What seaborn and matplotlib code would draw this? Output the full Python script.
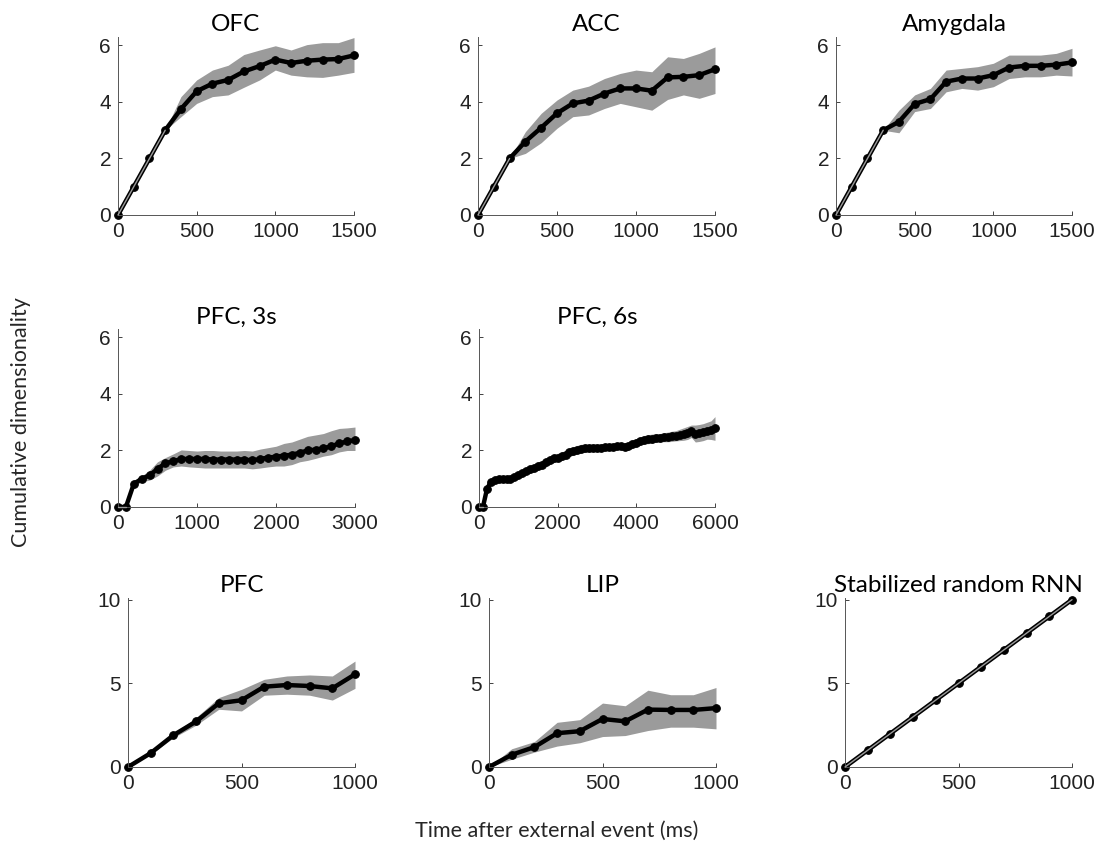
import numpy as np
import matplotlib
matplotlib.use("Agg")
import matplotlib.pyplot as plt
import seaborn as sns

# Values
t_short = [0, 100, 200, 300, 400, 500, 600, 700, 800, 900, 1000, 1100, 1200, 1300, 1400, 1500]

ofc_mean = [0, 1, 2, 3, 3.75, 4.38, 4.65, 4.78, 5.08, 5.27, 5.5, 5.38, 5.46, 5.5, 5.52, 5.65]
ofc_hi = [0, 1, 2, 3, 4.19, 4.78, 5.13, 5.3, 5.68, 5.84, 5.99, 5.84, 6.03, 6.1, 6.1, 6.28]
ofc_lo = [0, 1, 2, 3, 3.48, 3.95, 4.19, 4.25, 4.52, 4.78, 5.13, 4.95, 4.89, 4.87, 4.95, 5.05]

acc_mean = [0, 1, 2, 2.6, 3.09, 3.6, 3.95, 4.05, 4.3, 4.48, 4.48, 4.4, 4.87, 4.89, 4.95, 5.16]
acc_hi = [0, 1, 2, 2.95, 3.6, 4.07, 4.42, 4.56, 4.83, 5.01, 5.13, 5.07, 5.6, 5.54, 5.72, 5.95]
acc_lo = [0, 1, 2, 2.18, 2.56, 3.07, 3.48, 3.54, 3.77, 3.95, 3.83, 3.71, 4.09, 4.25, 4.13, 4.3]

amy_mean = [0, 1, 2, 3, 3.3, 3.93, 4.1, 4.72, 4.83, 4.83, 4.95, 5.22, 5.28, 5.28, 5.32, 5.4]
amy_hi = [0, 1, 2, 3, 3.71, 4.25, 4.48, 5.13, 5.19, 5.25, 5.37, 5.66, 5.66, 5.66, 5.72, 5.9]
amy_lo = [0, 1, 2, 3, 2.91, 3.66, 3.77, 4.36, 4.48, 4.42, 4.54, 4.83, 4.89, 4.89, 4.95, 4.92]

t_3s = [0, 100, 200, 300, 400, 500, 600, 700, 800, 900, 1000, 1100, 1200, 1300, 1400, 1500,
        1600, 1700, 1800, 1900, 2000, 2100, 2200, 2300, 2400, 2500, 2600, 2700, 2800, 2900, 3000]
pfc3_mean = [0, 0, 0.82, 1.0, 1.12, 1.35, 1.55, 1.62, 1.7, 1.7, 1.7, 1.7, 1.68, 1.68, 1.68, 1.68,
             1.68, 1.65, 1.7, 1.75, 1.78, 1.82, 1.85, 1.92, 2.0, 2.03, 2.08, 2.15, 2.25, 2.32, 2.37]
pfc3_hi = [0, 0, 0.9, 1.1, 1.3, 1.6, 1.75, 1.88, 2.02, 2.0, 1.98, 2.0, 2.0, 1.98, 1.98, 1.98,
           2.0, 1.98, 2.05, 2.1, 2.15, 2.25, 2.3, 2.4, 2.5, 2.55, 2.6, 2.7, 2.78, 2.8, 2.83]
pfc3_lo = [0, 0, 0.72, 0.9, 0.95, 1.1, 1.3, 1.42, 1.45, 1.42, 1.4, 1.38, 1.38, 1.38, 1.38, 1.38,
           1.38, 1.35, 1.38, 1.42, 1.45, 1.45, 1.5, 1.6, 1.65, 1.72, 1.8, 1.85, 1.95, 2.0, 2.0]

t_6s = [0, 100, 200, 300, 400, 500, 600, 700, 800, 900, 1000, 1100, 1200, 1300, 1400, 1500,
        1600, 1700, 1800, 1900, 2000, 2100, 2200, 2300, 2400, 2500, 2600, 2700, 2800, 2900, 3000,
        3100, 3200, 3300, 3400, 3500, 3600, 3700, 3800, 3900, 4000, 4100, 4200, 4300, 4400, 4500,
        4600, 4700, 4800, 4900, 5000, 5100, 5200, 5300, 5400, 5500, 5600, 5700, 5800, 5900, 6000]
pfc6_mean = [0, 0, 0.62, 0.9, 0.97, 1.0, 1.0, 1.0, 1.0, 1.05, 1.12, 1.2, 1.28, 1.33, 1.38, 1.45,
             1.5, 1.58, 1.65, 1.72, 1.75, 1.8, 1.85, 1.95, 1.98, 2.03, 2.07, 2.08, 2.08, 2.1, 2.1,
             2.1, 2.12, 2.13, 2.13, 2.15, 2.15, 2.13, 2.15, 2.22, 2.27, 2.33, 2.38, 2.4, 2.42, 2.45,
             2.45, 2.47, 2.48, 2.5, 2.52, 2.55, 2.58, 2.62, 2.68, 2.6, 2.62, 2.65, 2.7, 2.72, 2.78]
pfc6_hi = [0, 0, 0.7, 1.0, 1.07, 1.1, 1.1, 1.1, 1.1, 1.17, 1.24, 1.33, 1.41, 1.47, 1.52, 1.6,
           1.65, 1.73, 1.8, 1.87, 1.9, 1.95, 2.0, 2.1, 2.13, 2.18, 2.22, 2.22, 2.22, 2.23, 2.23,
           2.23, 2.24, 2.25, 2.25, 2.27, 2.27, 2.25, 2.28, 2.37, 2.42, 2.48, 2.53, 2.56, 2.58, 2.6,
           2.6, 2.63, 2.65, 2.68, 2.7, 2.75, 2.8, 2.85, 2.9, 2.9, 2.92, 2.95, 3.0, 3.05, 3.2]
pfc6_lo = [0, 0, 0.54, 0.8, 0.87, 0.9, 0.9, 0.9, 0.9, 0.93, 1.0, 1.07, 1.15, 1.19, 1.24, 1.3,
           1.35, 1.43, 1.5, 1.57, 1.6, 1.65, 1.7, 1.8, 1.83, 1.88, 1.92, 1.94, 1.94, 1.97, 1.97,
           1.97, 2.0, 2.01, 2.01, 2.03, 2.03, 2.01, 2.02, 2.07, 2.12, 2.18, 2.23, 2.24, 2.26, 2.3,
           2.3, 2.31, 2.31, 2.32, 2.34, 2.35, 2.36, 2.39, 2.46, 2.3, 2.32, 2.35, 2.4, 2.39, 2.36]

t_long = [0, 100, 200, 300, 400, 500, 600, 700, 800, 900, 1000]

pfc_mean = [0, 0.83, 1.9, 2.72, 3.81, 3.99, 4.8, 4.9, 4.84, 4.7, 5.54]
pfc_hi = [0, 0.9, 2.0, 2.96, 4.15, 4.64, 5.24, 5.44, 5.5, 5.44, 6.33]
pfc_lo = [0, 0.75, 1.75, 2.5, 3.45, 3.35, 4.29, 4.35, 4.29, 4.0, 4.7]

lip_mean = [0, 0.73, 1.19, 2.02, 2.14, 2.87, 2.73, 3.43, 3.41, 3.41, 3.52]
lip_hi = [0, 1.09, 1.52, 2.67, 2.83, 3.82, 3.66, 4.59, 4.32, 4.32, 4.75]
lip_lo = [0, 0.46, 0.89, 1.25, 1.45, 1.82, 1.88, 2.18, 2.38, 2.38, 2.28]

rnn_mean = [0, 1, 2, 3, 4, 5, 6, 7, 8, 9, 10]

panels = [
    ("OFC", t_short, ofc_mean, ofc_lo, ofc_hi, [0, 500, 1000, 1500], [0, 2, 4, 6], 6.3),
    ("ACC", t_short, acc_mean, acc_lo, acc_hi, [0, 500, 1000, 1500], [0, 2, 4, 6], 6.3),
    ("Amygdala", t_short, amy_mean, amy_lo, amy_hi, [0, 500, 1000, 1500], [0, 2, 4, 6], 6.3),
    ("PFC, 3s", t_3s, pfc3_mean, pfc3_lo, pfc3_hi, [0, 1000, 2000, 3000], [0, 2, 4, 6], 6.3),
    ("PFC, 6s", t_6s, pfc6_mean, pfc6_lo, pfc6_hi, [0, 2000, 4000, 6000], [0, 2, 4, 6], 6.3),
    ("PFC", t_long, pfc_mean, pfc_lo, pfc_hi, [0, 500, 1000], [0, 5, 10], 10.1),
    ("LIP", t_long, lip_mean, lip_lo, lip_hi, [0, 500, 1000], [0, 5, 10], 10.1),
    ("Stabilized random RNN", t_long, rnn_mean, rnn_mean, rnn_mean, [0, 500, 1000], [0, 5, 10], 10.1),
]

# axes boxes in pixels: left, right, bottom(y of zero), top
W, H = 1098, 849
boxes = [
    (118, 354, 215, 37), (478, 715, 215, 37), (836, 1072, 215, 37),
    (118, 355, 507, 329), (479, 715, 507, 329),
    (128, 355, 767, 598), (489, 716, 767, 598), (845, 1072, 767, 598),
]

sns.set_style("ticks")
plt.rcParams['font.family'] = ['Liberation Sans', 'DejaVu Sans']
plt.rcParams['xtick.direction'] = 'in'
plt.rcParams['ytick.direction'] = 'in'

fig = plt.figure(figsize=(W / 100, H / 100), dpi=100)
band_col = '#9b9b9b'
text_col = '#222222'
title_font = ['Lato', 'DejaVu Sans']

for (title, t, m, lo, hi, xt, yt, ytop), (l, r, b, tp) in zip(panels, boxes):
    ax = fig.add_axes([l / W, 1 - b / H, (r - l) / W, (b - tp) / H])
    ax.fill_between(t, lo, hi, color=band_col, lw=0, zorder=1)
    sns.lineplot(x=t, y=m, ax=ax, color='black', lw=3.2, marker='o', markersize=5.5,
                 markeredgecolor='black', zorder=2, clip_on=False)
    # thin band edge on top of the line, shown only where the band collapses
    lo_a, hi_a = np.array(lo, float), np.array(hi, float)
    flat = np.where(hi_a - lo_a < 0.01, lo_a, np.nan)
    ax.plot(t, flat, color=band_col, lw=1.0, zorder=3, clip_on=False)
    ax.set_xlim(xt[0], xt[-1])
    ax.set_ylim(0, ytop)
    ax.set_xticks(xt)
    ax.set_yticks(yt)
    ax.tick_params(labelsize=15, colors=text_col, length=3, width=0.6, pad=5)
    for s in ['top', 'right']:
        ax.spines[s].set_visible(False)
    for s in ['left', 'bottom']:
        ax.spines[s].set_color('#555555')
        ax.spines[s].set_linewidth(0.7)
    ax.set_title(title, fontsize=17.5, family=title_font, color='black', pad=4)

fig.text(21 / W, 1 - 422 / H, "Cumulative dimensionality", rotation=90, ha='center', va='center',
         fontsize=15.5, family=title_font)
fig.text(557 / W, 1 - 831 / H, "Time after external event (ms)", ha='center', va='center',
         fontsize=15.5, family=title_font)

plt.savefig("out.png", dpi=100)
